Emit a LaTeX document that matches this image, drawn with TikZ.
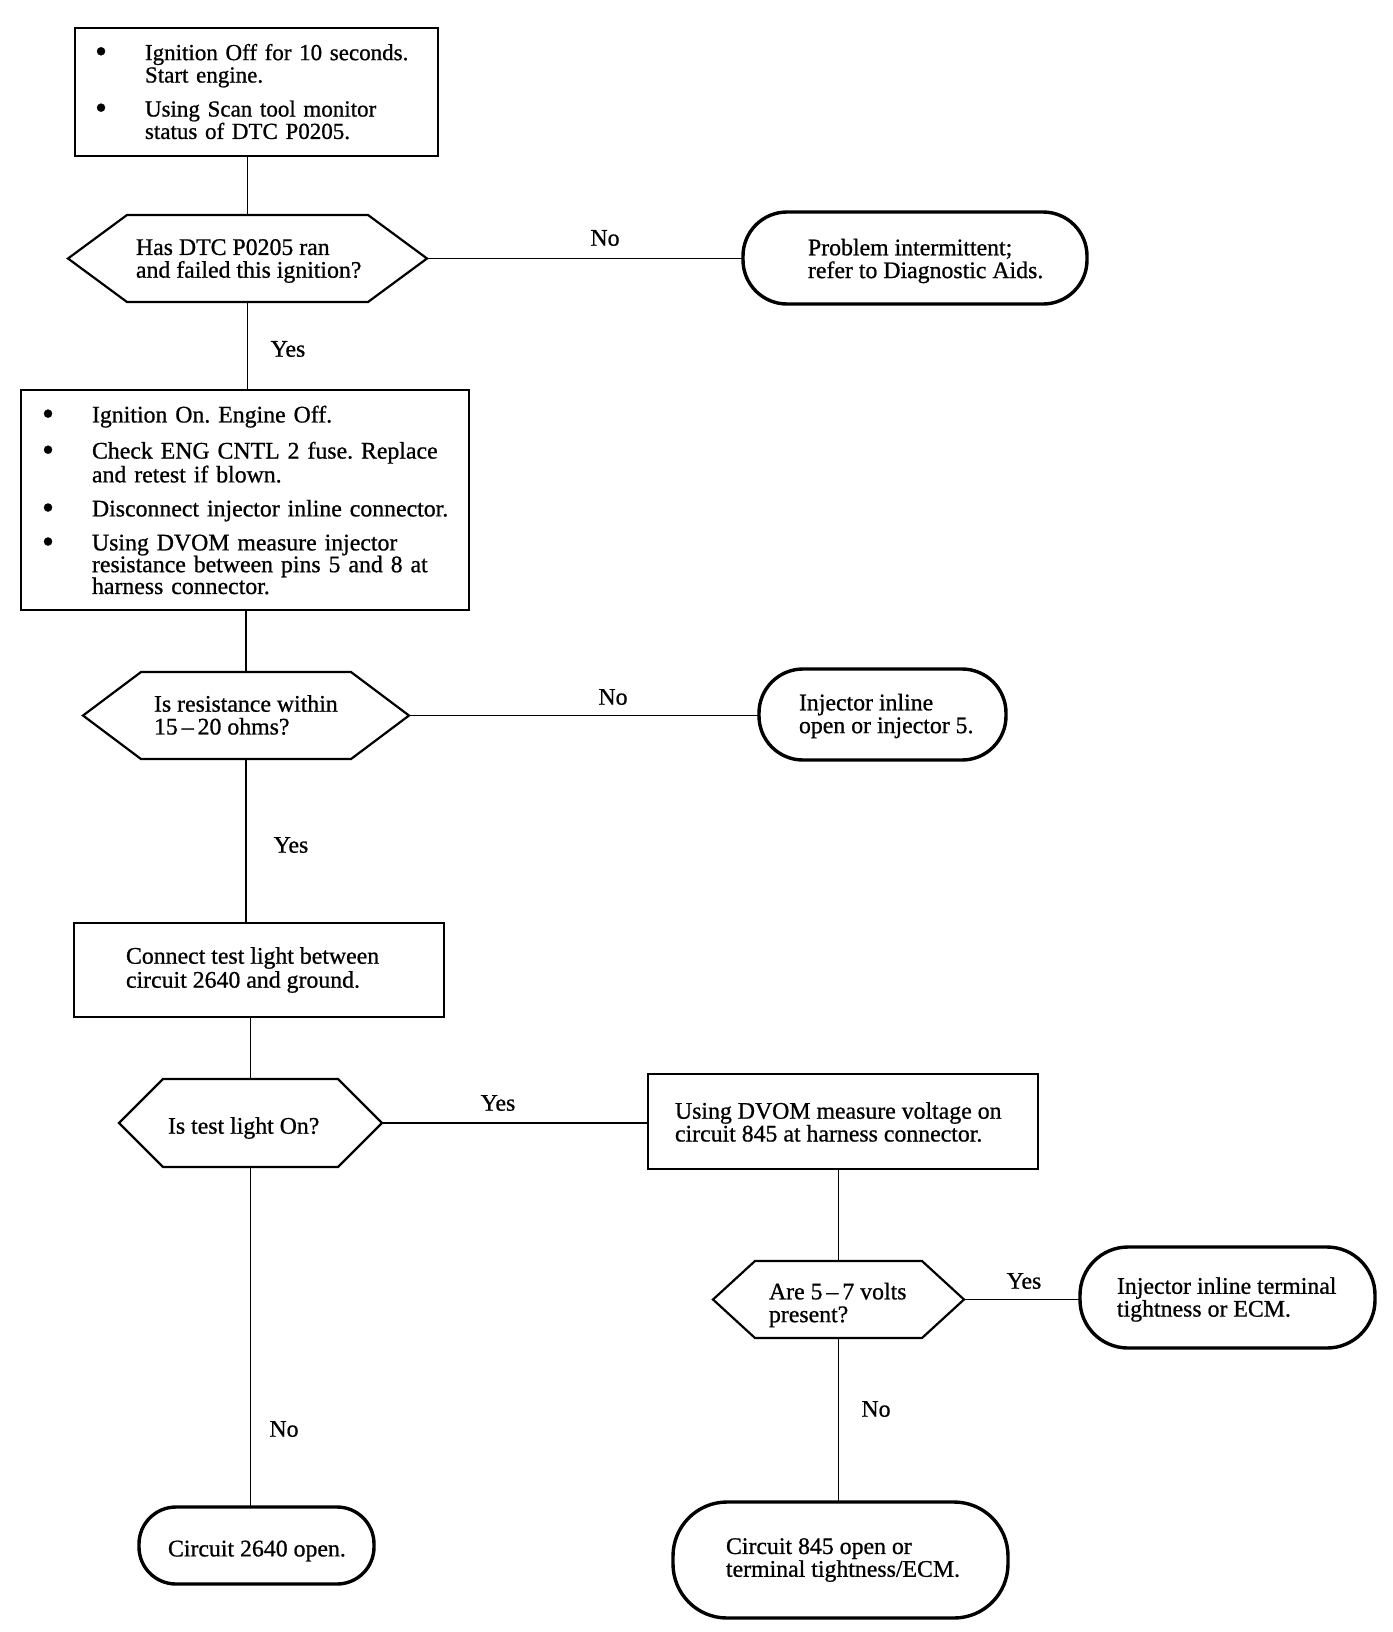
\documentclass[tikz,border=0pt]{standalone}
\usepackage{fontspec}
\setmainfont{Liberation Serif}
\newfontfamily\scanfont{Liberation Serif}[FakeBold=0.8,Ligatures=TeX]
\frenchspacing
\newcommand{\bitem}{\par\noindent\makebox[0pt][r]{{\fontsize{17pt}{11pt}\selectfont\raisebox{-1.2pt}{\textbullet}}\hspace{19pt}}}
\newcommand{\drawhex}[2]{\draw[hexline] (#1.west) -- ([xshift=#2]#1.north west) -- ([xshift=-#2]#1.north east) -- (#1.east) -- ([xshift=-#2]#1.south east) -- ([xshift=#2]#1.south west) -- cycle;}
\begin{document}
\begin{tikzpicture}[x=0.5pt,y=-0.5pt,
  every node/.style={inner sep=0pt,outer sep=0pt},
  procbox/.style={draw,line width=0.8pt},
  hexbox/.style={},
  termbox/.style={draw,line width=1.7pt,rounded corners=#1},
  hexline/.style={line width=1.1pt,line join=miter},
  conn/.style={line width=0.85pt},
  txt/.style={anchor=west,align=left,font=\scanfont\frenchspacing\fontsize{11.9pt}{11.4pt}\selectfont},
  lbl/.style={font=\scanfont\fontsize{11.9pt}{11.4pt}\selectfont}]
\useasboundingbox (0,0) rectangle (1392,1632);

% ---- shapes ----
\node[procbox,minimum width=181.5pt,minimum height=64pt] (b1) at (256.5,92) {};
\node[txt,text width=150pt,font=\scanfont\frenchspacing\fontsize{11.5pt}{11.2pt}\selectfont] (b1t) at (145,88.5) {\bitem Ignition Off for 10 seconds.\\Start engine.\par\vspace{5.8pt}\bitem Using Scan tool monitor\\status of DTC P0205.};

\node[hexbox,minimum width=179.5pt,minimum height=43.5pt] (d1) at (247.5,258.5) {};
\drawhex{d1}{29.5pt}
\node[txt] (d1t) at (136,261) {Has DTC P0205 ran\\and failed this ignition?};

\node[termbox=22pt,minimum width=172pt,minimum height=46pt] (t1) at (915,258) {};
\node[txt] (t1t) at (808,261) {Problem intermittent;\\refer to Diagnostic Aids.};

\node[procbox,minimum width=224pt,minimum height=110pt] (b2) at (245,500) {};
\node[txt,text width=186pt,font=\scanfont\frenchspacing\fontsize{11.9pt}{10.9pt}\selectfont] (b2t) at (92,497.5) {\bitem Ignition On. Engine Off.\par\vspace{6.1pt}\bitem Check ENG CNTL 2 fuse. Replace\\and retest if blown.\par\vspace{6.1pt}\bitem Disconnect injector inline connector.\par\vspace{6.1pt}\bitem Using DVOM measure injector\\resistance between pins 5 and 8 at\\harness connector.};

\node[hexbox,minimum width=163pt,minimum height=43.5pt] (d2) at (246,715.5) {};
\drawhex{d2}{29pt}
\node[txt] (d2t) at (154,715) {Is resistance within\\15\,–\,20 ohms?};

\node[termbox=22pt,minimum width=123.5pt,minimum height=45.5pt] (t2) at (882.5,714.5) {};
\node[txt] (t2t) at (799,716) {Injector inline\\open or injector 5.};

\node[procbox,minimum width=185pt,minimum height=47pt] (b3) at (259,970) {};
\node[txt,font=\scanfont\frenchspacing\fontsize{11.9pt}{12pt}\selectfont] (b3t) at (126,970) {Connect test light between\\circuit 2640 and ground.};

\node[hexbox,minimum width=131.5pt,minimum height=44pt] (d3) at (250.5,1123) {};
\drawhex{d3}{22pt}
\node[txt] (d3t) at (168,1128) {Is test light On?};

\node[procbox,minimum width=195pt,minimum height=47.5pt] (b4) at (843,1121.5) {};
\node[txt] (b4t) at (675,1122) {Using DVOM measure voltage on\\circuit 845 at harness connector.};

\node[hexbox,minimum width=125.5pt,minimum height=38.5pt] (d4) at (838.5,1299.5) {};
\drawhex{d4}{21pt}
\node[txt] (d4t) at (769,1305) {Are 5\,–\,7 volts\\present?};

\node[termbox=24pt,minimum width=147.5pt,minimum height=50.5pt] (t4) at (1227.5,1297.5) {};
\node[txt] (t4t) at (1117,1299.5) {Injector inline terminal\\tightness or ECM.};

\node[termbox=18.5pt,minimum width=117.5pt,minimum height=38.5pt] (t5) at (256.5,1545.5) {};
\node[txt] (t5t) at (168,1551) {Circuit 2640 open.};

\node[termbox=27pt,minimum width=167.5pt,minimum height=58pt] (t6) at (840.5,1560) {};
\node[txt] (t6t) at (726,1560) {Circuit 845 open or\\terminal tightness/ECM.};

% ---- connectors ----
\draw[conn] (d1.north |- b1.south) -- (d1.north);
\draw[conn] (d1.east) -- (d1.east -| t1.west);
\draw[conn] (d1.south) -- (d1.south |- b2.north);
\draw[conn] (d2.north |- b2.south) -- (d2.north);
\draw[conn] (d2.east) -- (d2.east -| t2.west);
\draw[conn] (d2.south) -- (d2.south |- b3.north);
\draw[conn] (d3.north |- b3.south) -- (d3.north);
\draw[conn] (d3.east) -- (d3.east -| b4.west);
\draw[conn] (d3.south) -- (d3.south |- t5.north);
\draw[conn] (d4.north |- b4.south) -- (d4.north);
\draw[conn] (d4.east) -- (d4.east -| t4.west);
\draw[conn] (d4.south) -- (d4.south |- t6.north);

% ---- labels ----
\node[lbl] (l1) at (605,238) {No};
\node[lbl] (l2) at (288,349) {Yes};
\node[lbl] (l3) at (613,697) {No};
\node[lbl] (l4) at (291,845) {Yes};
\node[lbl] (l5) at (498,1103) {Yes};
\node[lbl] (l6) at (1024,1281) {Yes};
\node[lbl] (l7) at (876,1409) {No};
\node[lbl] (l8) at (284,1429) {No};
\end{tikzpicture}
\end{document}
